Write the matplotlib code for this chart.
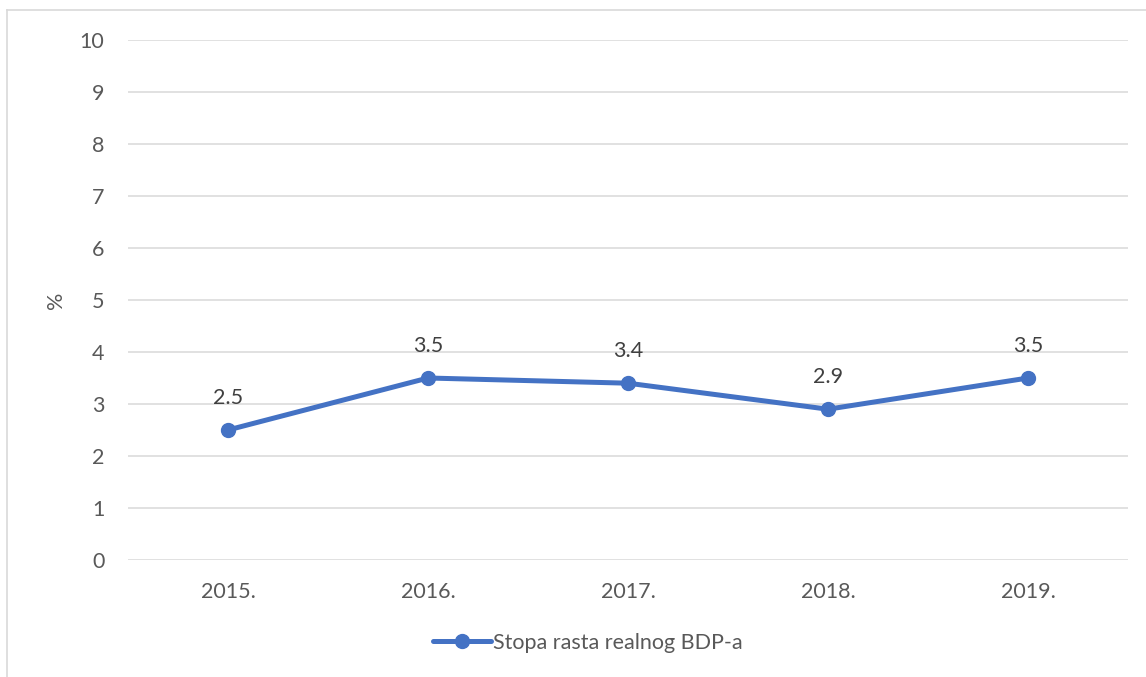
import matplotlib.pyplot as plt
from matplotlib.lines import Line2D

# Data
years = ['2015.', '2016.', '2017.', '2018.', '2019.']
growth = [2.5, 3.5, 3.4, 2.9, 3.5]
series_name = 'Stopa rasta realnog BDP-a'

W, H = 1146, 677
blue = '#4472C4'
grid_col = '#D9D9D9'
tick_col = '#595959'
fs = 15.5

plt.rcParams['font.family'] = ['Lato', 'DejaVu Sans']

fig = plt.figure(figsize=(W / 100, H / 100), dpi=100)
ax = fig.add_axes([128 / W, 1 - 560 / H, 1000 / W, 520 / H])

x = range(len(years))
ax.plot(x, growth, color=blue, lw=3.6, marker='o', markersize=10,
        solid_capstyle='round', zorder=3, label=series_name)
for xi, v in zip(x, growth):
    ax.annotate(f'{v}', (xi, v), xytext=(0, 16), textcoords='offset points',
                ha='center', va='bottom', fontsize=fs, color='#404040')

ax.set_xlim(-0.5, len(years) - 0.5)
ax.set_ylim(0, 10)
ax.set_yticks(range(0, 11))
ax.set_xticks(list(x))
ax.set_xticklabels(years)
ax.grid(axis='y', color=grid_col, lw=1.1)
ax.set_axisbelow(True)
for s in ax.spines.values():
    s.set_visible(False)
ax.tick_params(length=0, labelsize=fs, labelcolor=tick_col)
ax.tick_params(axis='y', pad=17)
ax.tick_params(axis='x', pad=16)
ax.set_ylabel('%', fontsize=fs, color=tick_col)
ax.yaxis.set_label_coords(-62 / 1000, 0.5)

# chart frame (partially visible)
fig.add_artist(Line2D([7 / W, 7 / W], [0, 1 - 10 / H], color=grid_col, lw=1.2))
fig.add_artist(Line2D([7 / W, 1], [1 - 10 / H, 1 - 10 / H], color=grid_col, lw=1.2))

fig.legend(loc='center', bbox_to_anchor=(588 / W, 1 - 643 / H), frameon=False,
           fontsize=fs, handlelength=2.7, handletextpad=0.1, labelcolor=tick_col)

fig.savefig('out.png', dpi=100)
